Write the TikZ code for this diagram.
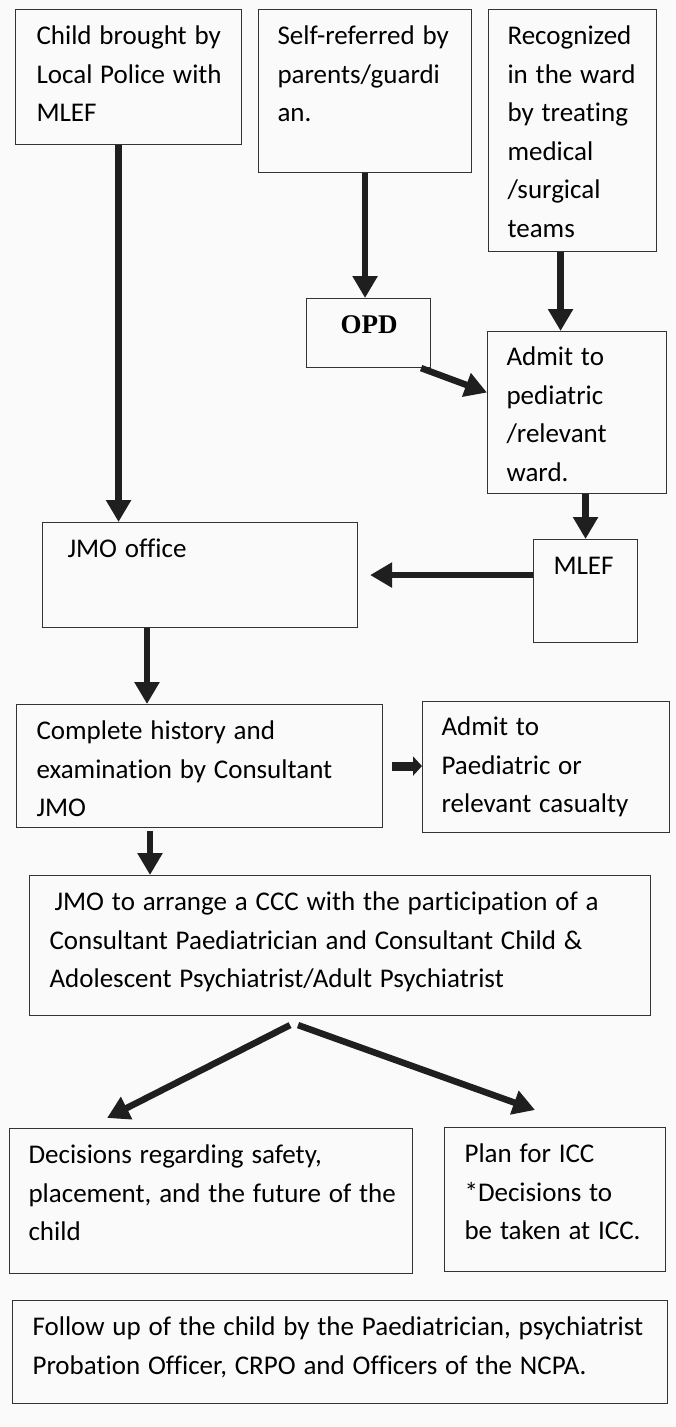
\documentclass[tikz,border=0pt]{standalone}
\usepackage{fontspec}
\setmainfont{Carlito}[Ligatures=CommonOff]
\newfontfamily\opdfont{Liberation Serif}
\usetikzlibrary{arrows.meta}

% Stile dei riquadri e delle frecce
\tikzset{
  lpad/.style={execute at begin node={\leftskip=#1\spaceskip=.29em\relax}},
  stage/.style={draw=black!80, line width=1.1pt, anchor=north west,
    inner xsep=0pt, inner ysep=0pt, align=left, text height=35pt, lpad=20pt,
    font=\fontsize{27}{38.5}\selectfont},
  flow/.style={draw=black!88, line width=6.5pt, -{Triangle[width=24pt,length=22pt]}},
  nudge/.style={draw=black!88, line width=9pt, -{Triangle[width=19pt,length=9pt]}},
}

\begin{document}
\begin{tikzpicture}[x=1pt, y=-1pt]
  % Sfondo
  \fill[black!2] (0,0) rectangle (676,1427);
  \useasboundingbox (0,0) rectangle (676,1427);

  % Ingressi
  \node[stage, lpad=21pt, text width=226pt, text depth=100pt] (child) at (15,9)
    {Child brought by\\Local Police with\\MLEF};
  \node[stage, lpad=19pt, text width=213pt, text depth=128pt] (self) at (258,9)
    {Self-referred by\\parents/guardi\\an.};
  \node[stage, lpad=19pt, text width=168pt, text depth=207pt] (recog) at (488,9)
    {Recognized\\in the ward\\by treating\\medical\\/surgical\\teams};

  % Reparto
  \node[stage, lpad=34pt, text width=124pt, text depth=34pt,
    font=\fontsize{27}{38.5}\opdfont\bfseries] (opd) at (306,298) {OPD};
  \node[stage, lpad=19pt, text width=179pt, text height=34pt, text depth=128pt] (admit) at (487,331)
    {Admit to\\pediatric\\/relevant\\ward.};
  \node[stage, text width=104pt, text depth=68pt] (mlef) at (533,539) {MLEF};
  \node[stage, lpad=25pt, text width=315pt, text depth=70pt] (jmo) at (42,522) {JMO office};

  % Esame
  \node[stage, text width=366pt, text depth=88pt] (exam) at (16,704)
    {Complete history and\\examination by Consultant\\JMO};
  \node[stage, lpad=19pt, text width=247pt, text height=34pt, text depth=97pt] (casualty) at (422,701)
    {Admit to\\Paediatric or\\relevant casualty};
  \node[stage, text width=621pt, text depth=105pt] (ccc) at (29,875)
    {\hspace{5pt}JMO to arrange a CCC with the participation of a\\Consultant Paediatrician and Consultant Child \&\\Adolescent Psychiatrist/Adult Psychiatrist};

  % Esiti
  \node[stage, lpad=19pt, text width=403pt, text depth=110pt] (decide) at (9,1128)
    {Decisions regarding safety,\\placement, and the future of the\\child};
  \node[stage, text width=221pt, text depth=109pt] (plan) at (444,1127)
    {Plan for ICC\\{*}Decisions to\\be taken at ICC.};
  \node[stage, text width=655pt, text depth=68pt] (follow) at (12,1300)
    {Follow up of the child by the Paediatrician, psychiatrist\\Probation Officer, CRPO and Officers of the NCPA.};

  % Frecce
  \draw[flow] ([xshift=-10pt]child.south) -- ([xshift=-10pt]child.south |- jmo.north);
  \draw[flow] (self.south) -- (self.south |- opd.north);
  \draw[flow] ([xshift=-12pt]recog.south) -- ([xshift=-12pt]recog.south |- admit.north);
  \draw[flow] ([xshift=-10pt]opd.south east) -- ([yshift=20pt]admit.west);
  \draw[flow] (mlef.north |- admit.south) -- (mlef.north);
  \draw[flow, shorten >=12pt] (mlef.west |- jmo.east) -- (jmo.east);
  \draw[flow] ([xshift=105pt]jmo.south west) -- ([xshift=105pt]jmo.south west |- exam.north);
  \draw[nudge] ([xshift=9pt]exam.east) -- (casualty.west |- exam.east);
  \draw[flow] ([xshift=134pt,yshift=-3pt]exam.south west) -- ([xshift=134pt]exam.south west |- ccc.north);
  \draw[flow] ([xshift=-50pt,yshift=-9pt]ccc.south) -- ([xshift=-104pt,yshift=10pt]decide.north);
  \draw[flow] ([xshift=-42pt,yshift=-9pt]ccc.south) -- ([xshift=-20pt,yshift=17pt]plan.north);
\end{tikzpicture}
\end{document}
